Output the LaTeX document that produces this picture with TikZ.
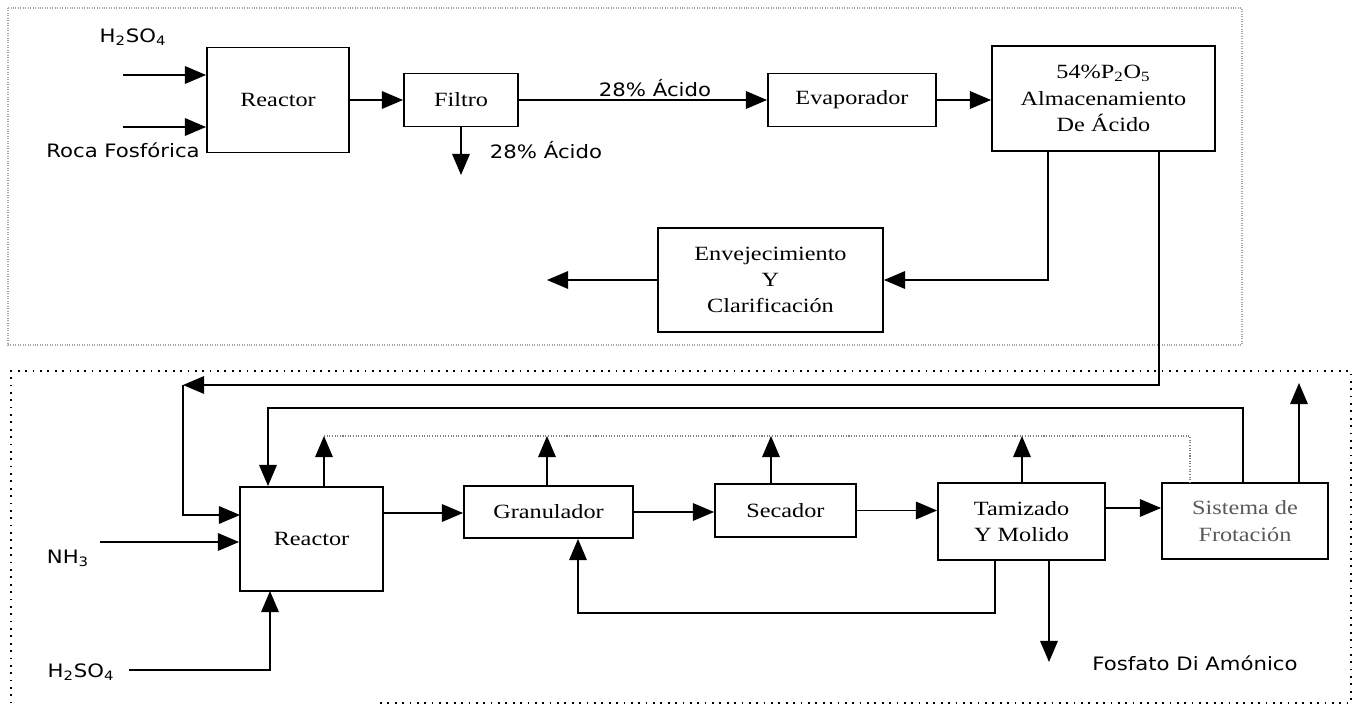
\documentclass[tikz,border=0pt]{standalone}
\usepackage{fontspec}
\setmainfont{Liberation Serif}[FakeStretch=1.2]
\newfontfamily\sansrotulo{DejaVu Sans}[FakeStretch=1.15]
\usetikzlibrary{arrows.meta}

\tikzset{
    caja/.style={draw, line width=1.1pt, align=center, inner sep=2pt,
        font=\fontsize{11.5}{15}\selectfont},
    flecha/.style={line width=0.8pt, -{Triangle[length=12pt,width=10pt]}},
    rotulo/.style={font=\sansrotulo\fontsize{10.5}{12}\selectfont, inner sep=1pt},
    marcogris/.style={gray!70, line width=0.6pt, dash pattern=on 0.5pt off 0.9pt},
    marconegro/.style={black, line width=1.1pt, dash pattern=on 1pt off 3.2pt},
}

\begin{document}
\begin{tikzpicture}[x=0.02cm, y=-0.02cm] %px
            \useasboundingbox (0,0) rectangle (1357,706);

            % marcos
            \draw[marcogris] (8,8) rectangle (1242,345);
            \draw[marconegro] (380,703) -- (1351,703) -- (1351,371) -- (11,371) -- (11,703);

            % produccion de acido
            \node[caja, minimum width=2.84cm, minimum height=2.10cm] (reactorA) at (278,100) {Reactor};
            \node[caja, minimum width=2.28cm, minimum height=1.06cm] (filtro) at (461,100) {Filtro};
            \node[caja, minimum width=3.36cm, minimum height=1.06cm] (evaporador) at (852,100) {Evaporador};
            \node[caja, minimum width=4.46cm, minimum height=2.10cm] (almacen) at (1103.5,98.5)
                {54\%P\textsubscript{2}O\textsubscript{5}\\Almacenamiento\\De Ácido};
            \node[caja, minimum width=4.50cm, minimum height=2.08cm] (envejec) at (770.5,280)
                {Envejecimiento\\Y\\Clarificación};

            \coordinate (in1) at (123,75);
            \coordinate (in2) at (123,127);
            \coordinate (out1) at (461,175);
            \coordinate (out2) at (547,280);
            \coordinate (al1) at (1048,280);
            \coordinate (al2) at (1159,385);
            \coordinate (retorno) at (183,385);

            \node[rotulo] (h2so4A) at (133,37) {H\textsubscript{2}SO\textsubscript{4}};
            \node[rotulo] (roca) at (123,150) {Roca Fosfórica};
            \node[rotulo, anchor=base] (acido1) at (655,97) {28\% Ácido};
            \node[rotulo] (acido2) at (546,150) {28\% Ácido};

            \draw[flecha] (in1) -- (in1 -| reactorA.west);
            \draw[flecha] (in2) -- (in2 -| reactorA.west);
            \draw[flecha] (reactorA) -- (filtro);
            \draw[flecha] (filtro) -- (evaporador);
            \draw[flecha] (evaporador) -- (almacen.west |- evaporador);
            \draw[flecha] (filtro.south) -- (out1);
            \draw[flecha] (almacen.south -| al1) -- (al1) -- (envejec.east);
            \draw[flecha] (envejec.west) -- (out2);
            \draw[flecha] (almacen.south -| al2) -- (al2) -- (retorno);

            % fosfato di amonico
            \node[caja, minimum width=2.86cm, minimum height=2.08cm] (reactorB) at (311.5,539) {Reactor};
            \node[caja, minimum width=3.38cm, minimum height=1.04cm] (granulador) at (548.5,512) {Granulador};
            \node[caja, minimum width=2.82cm, minimum height=1.06cm] (secador) at (785.5,510.5) {Secador};
            \node[caja, minimum width=3.34cm, minimum height=1.54cm] (tamizado) at (1021.5,521.5) {Tamizado\\Y Molido};
            \node[caja, minimum width=3.32cm, minimum height=1.52cm, text=black!65] (sistema) at (1245,521)
                {Sistema de\\Frotación};

            \coordinate (in3) at (100,542);
            \coordinate (in4) at (129,670);
            \coordinate (ent1) at (240,515);
            \coordinate (ent2) at (270,591);
            \coordinate (rg) at (0,513);
            \coordinate (ts) at (0,508);
            \coordinate (sube1) at (324,436);
            \coordinate (sube2) at (547,436);
            \coordinate (sube3) at (771,436);
            \coordinate (sube4) at (1022,436);
            \coordinate (sube5) at (1190,436);
            \coordinate (rec1) at (1243,408);
            \coordinate (rec2) at (268,408);
            \coordinate (gr1) at (995,613);
            \coordinate (gr2) at (578,613);
            \coordinate (out3) at (1049,662);
            \coordinate (out4) at (1299,383);

            \node[rotulo] (nh3) at (68,558) {NH\textsubscript{3}};
            \node[rotulo] (h2so4B) at (81,672) {H\textsubscript{2}SO\textsubscript{4}};
            \node[rotulo] (fosfato) at (1195,663) {Fosfato Di Amónico};

            \draw[flecha] (retorno) |- (ent1);
            \draw[flecha] (in3) -- (in3 -| reactorB.west);
            \draw[flecha] (in4) -| (ent2);
            \draw[flecha] (reactorB.east |- rg) -- (granulador.west |- rg);
            \draw[flecha] (granulador.east) -- (granulador.east -| secador.west);
            \draw[flecha] (secador.east) -- (secador.east -| tamizado.west);
            \draw[flecha] (tamizado.east |- ts) -- (sistema.west |- ts);

            \draw[flecha] (reactorB.north -| sube1) -- (sube1);
            \draw[flecha] (granulador.north -| sube2) -- (sube2);
            \draw[flecha] (secador.north -| sube3) -- (sube3);
            \draw[flecha] (tamizado.north -| sube4) -- (sube4);
            \draw[gray, line width=0.8pt, dash pattern=on 0.6pt off 0.9pt]
                (sube1) -- (sube5) -- (sistema.north -| sube5);

            \draw[flecha] (sistema.north -| rec1) -- (rec1) -- (rec2) -- (reactorB.north -| rec2);
            \draw[flecha] (sistema.north -| out4) -- (out4);
            \draw[flecha] (tamizado.south -| gr1) -- (gr1) -- (gr2) -- (granulador.south -| gr2);
            \draw[flecha] (tamizado.south -| out3) -- (out3);
        \end{tikzpicture}
\end{document}
